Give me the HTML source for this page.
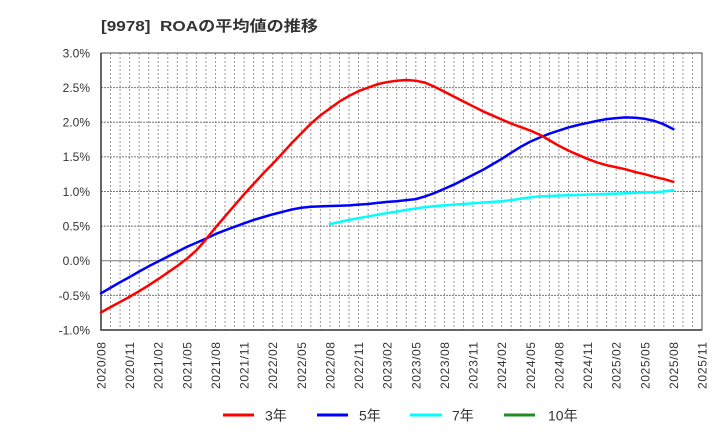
<!DOCTYPE html>
<html><head><meta charset="utf-8"><style>
html,body{margin:0;padding:0;background:#fff;}
svg{display:block;font-family:"Liberation Sans","Noto Sans CJK JP",sans-serif;}
</style></head><body>
<svg width="720" height="440" viewBox="0 0 720 440" xmlns="http://www.w3.org/2000/svg">
<rect width="720" height="440" fill="#fff"/>
<text x="101" y="31" font-size="15" font-weight="bold" fill="#333" textLength="217" lengthAdjust="spacingAndGlyphs">[9978]&#160;&#160;ROAの平均値の推移</text>

<!-- vertical monthly grid -->
<g stroke="#999" stroke-width="1" stroke-dasharray="2,2">
<path d="M110.54 53V330M120.08 53V330M129.62 53V330M139.16 53V330M148.7 53V330M158.24 53V330M167.78 53V330M177.32 53V330M186.86 53V330M196.4 53V330M205.94 53V330M215.48 53V330M225.02 53V330M234.56 53V330M244.1 53V330M253.63 53V330M263.17 53V330M272.71 53V330M282.25 53V330M291.79 53V330M301.33 53V330M310.87 53V330M320.41 53V330M329.95 53V330M339.49 53V330M349.03 53V330M358.57 53V330M368.11 53V330M377.65 53V330M387.19 53V330M396.73 53V330M406.27 53V330M415.81 53V330M425.35 53V330M434.89 53V330M444.43 53V330M453.97 53V330M463.51 53V330M473.05 53V330M482.59 53V330M492.13 53V330M501.67 53V330M511.21 53V330M520.75 53V330M530.29 53V330M539.83 53V330M549.37 53V330M558.91 53V330M568.45 53V330M577.99 53V330M587.53 53V330M597.06 53V330M606.6 53V330M616.14 53V330M625.68 53V330M635.22 53V330M644.76 53V330M654.3 53V330M663.84 53V330M673.38 53V330M682.92 53V330M692.46 53V330"/>
</g>
<!-- horizontal grid -->
<g stroke="#777" stroke-width="1" stroke-dasharray="2,1">
<path d="M101 87.6H702M101 122.25H702M101 156.9H702M101 191.5H702M101 226.1H702M101 295.4H702"/>
</g>
<path d="M101 260.75H702" stroke="#777" stroke-width="1"/>
<rect x="101" y="53" width="601" height="277" fill="none" stroke="#444" stroke-width="1"/>
<path d="M101 53V330H702" fill="none" stroke="#333" stroke-width="1.5"/>

<!-- y labels -->
<g font-size="12" fill="#333" text-anchor="end">
<text x="90" y="57.5">3.0%</text>
<text x="90" y="92">2.5%</text>
<text x="90" y="126.5">2.0%</text>
<text x="90" y="161">1.5%</text>
<text x="90" y="196">1.0%</text>
<text x="90" y="230.5">0.5%</text>
<text x="90" y="265">0.0%</text>
<text x="90" y="300">-0.5%</text>
<text x="90" y="334.5">-1.0%</text>
</g>

<!-- x labels -->
<g font-size="12" fill="#333" text-anchor="end">
<text transform="translate(105.5,342) rotate(-90)" textLength="47" lengthAdjust="spacing">2020/08</text>
<text transform="translate(134.1,342) rotate(-90)" textLength="47" lengthAdjust="spacing">2020/11</text>
<text transform="translate(162.7,342) rotate(-90)" textLength="47" lengthAdjust="spacing">2021/02</text>
<text transform="translate(191.4,342) rotate(-90)" textLength="47" lengthAdjust="spacing">2021/05</text>
<text transform="translate(220,342) rotate(-90)" textLength="47" lengthAdjust="spacing">2021/08</text>
<text transform="translate(248.6,342) rotate(-90)" textLength="47" lengthAdjust="spacing">2021/11</text>
<text transform="translate(277.2,342) rotate(-90)" textLength="47" lengthAdjust="spacing">2022/02</text>
<text transform="translate(305.8,342) rotate(-90)" textLength="47" lengthAdjust="spacing">2022/05</text>
<text transform="translate(334.5,342) rotate(-90)" textLength="47" lengthAdjust="spacing">2022/08</text>
<text transform="translate(363.1,342) rotate(-90)" textLength="47" lengthAdjust="spacing">2022/11</text>
<text transform="translate(391.7,342) rotate(-90)" textLength="47" lengthAdjust="spacing">2023/02</text>
<text transform="translate(420.3,342) rotate(-90)" textLength="47" lengthAdjust="spacing">2023/05</text>
<text transform="translate(448.9,342) rotate(-90)" textLength="47" lengthAdjust="spacing">2023/08</text>
<text transform="translate(477.6,342) rotate(-90)" textLength="47" lengthAdjust="spacing">2023/11</text>
<text transform="translate(506.2,342) rotate(-90)" textLength="47" lengthAdjust="spacing">2024/02</text>
<text transform="translate(534.8,342) rotate(-90)" textLength="47" lengthAdjust="spacing">2024/05</text>
<text transform="translate(563.4,342) rotate(-90)" textLength="47" lengthAdjust="spacing">2024/08</text>
<text transform="translate(592,342) rotate(-90)" textLength="47" lengthAdjust="spacing">2024/11</text>
<text transform="translate(620.6,342) rotate(-90)" textLength="47" lengthAdjust="spacing">2025/02</text>
<text transform="translate(649.3,342) rotate(-90)" textLength="47" lengthAdjust="spacing">2025/05</text>
<text transform="translate(677.9,342) rotate(-90)" textLength="47" lengthAdjust="spacing">2025/08</text>
<text transform="translate(706.5,342) rotate(-90)" textLength="47" lengthAdjust="spacing">2025/11</text>
</g>

<!-- series -->
<g transform="translate(101,260.75) scale(9.5397,-69.25)" fill="none" stroke-linejoin="round" stroke-linecap="round">
<polyline vector-effect="non-scaling-stroke" stroke="#00ffff" stroke-width="2.5" points="24,0.53 25,0.56 26,0.59 27,0.615 28,0.64 29,0.665 30,0.69 31,0.71 32,0.735 33,0.755 34,0.775 35,0.79 36,0.8 37,0.81 38,0.82 39,0.83 40,0.84 41,0.85 42,0.86 43,0.875 44,0.895 45,0.915 46,0.93 47,0.935 48,0.94 49,0.945 50,0.95 51,0.955 52,0.96 53,0.965 54,0.97 55,0.975 56,0.98 57,0.985 58,0.99 59,1.0 60,1.02"/>
<polyline vector-effect="non-scaling-stroke" stroke="#0000ff" stroke-width="2.5" points="0,-0.47 1,-0.39 2,-0.31 3,-0.235 4,-0.155 5,-0.08 6,-0.01 7,0.06 8,0.13 9,0.2 10,0.26 11,0.32 12,0.385 13,0.44 14,0.49 15,0.54 16,0.59 17,0.63 18,0.67 19,0.705 20,0.74 21,0.765 22,0.78 23,0.785 24,0.79 25,0.795 26,0.8 27,0.81 28,0.82 29,0.835 30,0.85 31,0.86 32,0.875 33,0.89 34,0.93 35,0.98 36,1.04 37,1.1 38,1.17 39,1.24 40,1.31 41,1.39 42,1.47 43,1.56 44,1.645 45,1.72 46,1.78 47,1.835 48,1.88 49,1.925 50,1.96 51,1.99 52,2.02 53,2.045 54,2.06 55,2.07 56,2.065 57,2.05 58,2.02 59,1.97 60,1.9"/>
<polyline vector-effect="non-scaling-stroke" stroke="#ff0000" stroke-width="2.5" points="0,-0.745 1,-0.67 2,-0.595 3,-0.52 4,-0.44 5,-0.355 6,-0.265 7,-0.17 8,-0.075 9,0.03 10,0.15 11,0.31 12,0.48 13,0.64 14,0.8 15,0.96 16,1.11 17,1.26 18,1.4 19,1.55 20,1.7 21,1.84 22,1.98 23,2.1 24,2.2 25,2.3 26,2.38 27,2.45 28,2.5 29,2.55 30,2.58 31,2.6 32,2.61 33,2.6 34,2.57 35,2.51 36,2.44 37,2.37 38,2.3 39,2.23 40,2.16 41,2.1 42,2.04 43,1.98 44,1.93 45,1.88 46,1.82 47,1.74 48,1.66 49,1.59 50,1.53 51,1.47 52,1.42 53,1.38 54,1.35 55,1.32 56,1.28 57,1.25 58,1.21 59,1.18 60,1.14"/>
</g>

<!-- legend -->
<g stroke-width="3">
<line x1="223" y1="415" x2="254" y2="415" stroke="#ff0000"/>
<line x1="317" y1="415" x2="348" y2="415" stroke="#0000ff"/>
<line x1="410" y1="415" x2="442" y2="415" stroke="#00ffff"/>
<line x1="504" y1="415" x2="535" y2="415" stroke="#228b22"/>
</g>
<g font-size="14" fill="#333">
<text x="265" y="420.5">3年</text>
<text x="359" y="420.5">5年</text>
<text x="452" y="420.5">7年</text>
<text x="548" y="420.5">10年</text>
</g>
</svg>
</body></html>
